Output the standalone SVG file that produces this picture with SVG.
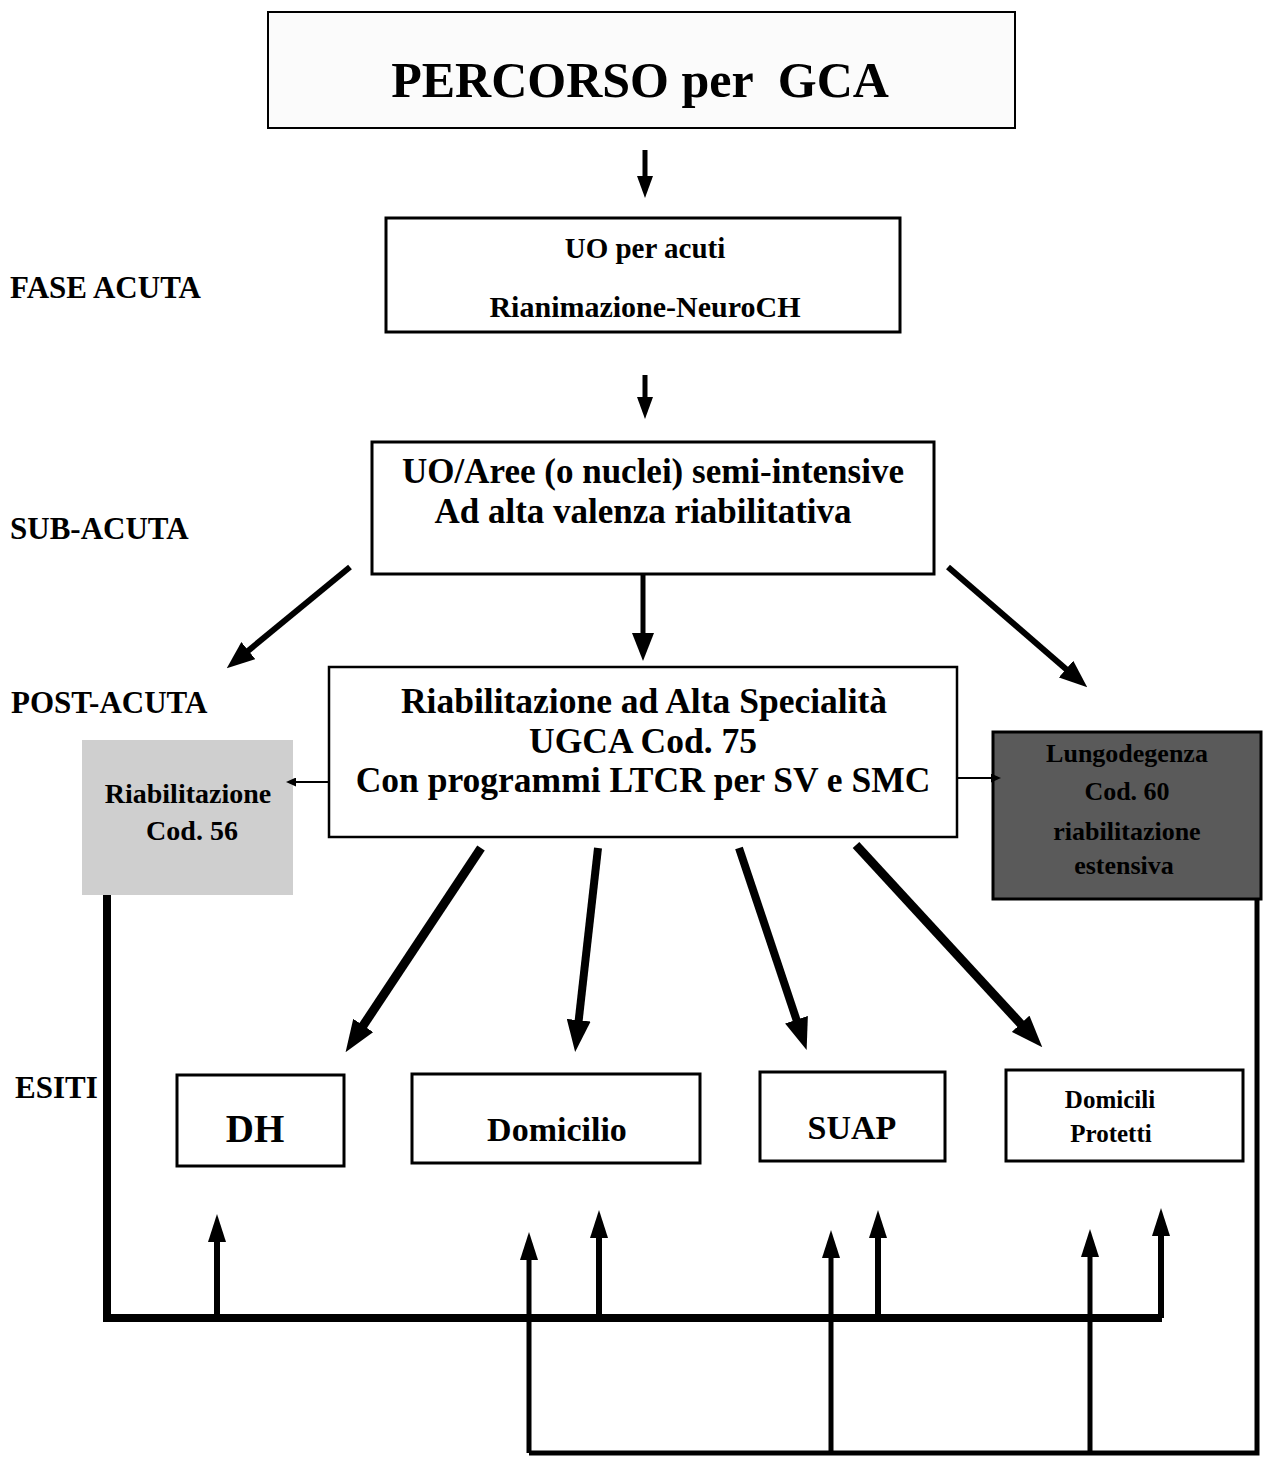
<svg xmlns="http://www.w3.org/2000/svg" width="1263" height="1460" viewBox="0 0 1263 1460">
<style>
  text { font-family: "Liberation Serif", "Times New Roman", serif; font-weight: bold; fill: #000; }
  .box { fill: #fff; stroke: #000; stroke-width: 3; }
  .lbl { font-size: 31px; }
  .c { text-anchor: middle; }
  .conn { fill: none; stroke: #000; stroke-linecap: butt; stroke-linejoin: miter; }
</style>
<defs>
  <marker id="m1" viewBox="0 0 22 16" refX="1" refY="8" markerWidth="22" markerHeight="16" markerUnits="userSpaceOnUse" orient="auto">
    <path d="M0,0 L22,8 L0,16 z" fill="#000"/>
  </marker>
  <marker id="m2" viewBox="0 0 28 22" refX="1" refY="11" markerWidth="28" markerHeight="22" markerUnits="userSpaceOnUse" orient="auto">
    <path d="M0,0 L28,11 L0,22 z" fill="#000"/>
  </marker>
  <marker id="m3" viewBox="0 0 10 9" refX="1" refY="4.5" markerWidth="10" markerHeight="9" markerUnits="userSpaceOnUse" orient="auto">
    <path d="M0,0 L10,4.5 L0,9 z" fill="#000"/>
  </marker>
  <marker id="m4" viewBox="0 0 32 24" refX="1" refY="12" markerWidth="32" markerHeight="24" markerUnits="userSpaceOnUse" orient="auto">
    <path d="M0,0 L32,12 L0,24 z" fill="#000"/>
  </marker>
  <marker id="m5" viewBox="0 0 28 18" refX="1" refY="9" markerWidth="28" markerHeight="18" markerUnits="userSpaceOnUse" orient="auto">
    <path d="M0,0 L28,9 L0,18 z" fill="#000"/>
  </marker>
</defs>
<rect width="1263" height="1460" fill="#fff"/>

<g id="phase-labels">
  <text class="lbl" x="10" y="298">FASE ACUTA</text>
  <text class="lbl" x="10" y="539">SUB-ACUTA</text>
  <text class="lbl" x="11" y="713">POST-ACUTA</text>
  <text class="lbl" x="15" y="1098" font-size="30">ESITI</text>
</g>

<g id="title">
  <rect x="268" y="12" width="747" height="116" fill="#fbfbfb" stroke="#000" stroke-width="2"/>
  <text x="640" y="97" class="c" font-size="50" xml:space="preserve">PERCORSO per  GCA</text>
</g>

<g id="uo-acuti">
  <rect class="box" x="386" y="218" width="514" height="114"/>
  <text x="645" y="258" class="c" font-size="29">UO per acuti</text>
  <text x="645" y="317" class="c" font-size="30">Rianimazione-NeuroCH</text>
</g>

<g id="semi-intensive">
  <rect class="box" x="372" y="442" width="562" height="132"/>
  <text x="653" y="483" class="c" font-size="35">UO/Aree (o nuclei) semi-intensive</text>
  <text x="643" y="523" class="c" font-size="35">Ad alta valenza riabilitativa</text>
</g>

<g id="alta-specialita">
  <rect x="329" y="667" width="628" height="170" fill="#fff" stroke="#000" stroke-width="2.5"/>
  <text x="644" y="713" class="c" font-size="35.5">Riabilitazione ad Alta Specialità</text>
  <text x="643" y="753" class="c" font-size="35.5">UGCA Cod. 75</text>
  <text x="643" y="792" class="c" font-size="35.5">Con programmi LTCR per SV e SMC</text>
</g>

<g id="riab-cod56">
  <rect x="82" y="740" width="211" height="155" fill="#cfcfcf"/>
  <text x="188" y="803" class="c" font-size="28">Riabilitazione</text>
  <text x="192" y="840" class="c" font-size="28">Cod. 56</text>
</g>

<g id="lungodegenza">
  <rect x="993" y="732" width="268" height="167" fill="#5a5a5a" stroke="#000" stroke-width="3"/>
  <text x="1127" y="762" class="c" font-size="26">Lungodegenza</text>
  <text x="1127" y="800" class="c" font-size="26">Cod. 60</text>
  <text x="1127" y="840" class="c" font-size="26">riabilitazione</text>
  <text x="1124" y="874" class="c" font-size="26">estensiva</text>
</g>

<g id="dh">
  <rect class="box" x="177" y="1075" width="167" height="91"/>
  <text x="255" y="1142" class="c" font-size="39">DH</text>
</g>
<g id="domicilio">
  <rect class="box" x="412" y="1074" width="288" height="89"/>
  <text x="557" y="1141" class="c" font-size="34">Domicilio</text>
</g>
<g id="suap">
  <rect class="box" x="760" y="1072" width="185" height="89"/>
  <text x="852" y="1139" class="c" font-size="34">SUAP</text>
</g>
<g id="domicili-protetti">
  <rect class="box" x="1006" y="1070" width="237" height="91"/>
  <text x="1110" y="1108" class="c" font-size="25">Domicili</text>
  <text x="1111" y="1142" class="c" font-size="25">Protetti</text>
</g>

<g id="connectors">
  <line class="conn" x1="645" y1="150" x2="645" y2="177" stroke-width="5" marker-end="url(#m1)"/>
  <line class="conn" x1="645" y1="375" x2="645" y2="398" stroke-width="5" marker-end="url(#m1)"/>

  <line class="conn" x1="350" y1="567" x2="247.6" y2="651.2" stroke-width="6" marker-end="url(#m2)"/>
  <line class="conn" x1="643" y1="574" x2="643" y2="634" stroke-width="5" marker-end="url(#m2)"/>
  <line class="conn" x1="948" y1="567" x2="1066.8" y2="669.7" stroke-width="6" marker-end="url(#m2)"/>

  <line class="conn" x1="329" y1="782" x2="295" y2="782" stroke-width="2" marker-end="url(#m3)"/>
  <line class="conn" x1="957" y1="778" x2="992" y2="778" stroke-width="2" marker-end="url(#m3)"/>

  <line class="conn" x1="481" y1="848" x2="362.7" y2="1026.3" stroke-width="9" marker-end="url(#m4)"/>
  <line class="conn" x1="598" y1="848" x2="578.6" y2="1021.2" stroke-width="8" marker-end="url(#m4)"/>
  <line class="conn" x1="739" y1="848" x2="796.8" y2="1020.7" stroke-width="8" marker-end="url(#m4)"/>
  <line class="conn" x1="856" y1="845" x2="1021.3" y2="1024.5" stroke-width="9" marker-end="url(#m4)"/>

  <path class="conn" d="M107,895 V1318 H1162" stroke-width="8"/>
  <line class="conn" x1="217" y1="1318" x2="217" y2="1241" stroke-width="6" marker-end="url(#m5)"/>
  <line class="conn" x1="599" y1="1318" x2="599" y2="1237" stroke-width="6" marker-end="url(#m5)"/>
  <line class="conn" x1="878" y1="1318" x2="878" y2="1237" stroke-width="6" marker-end="url(#m5)"/>
  <line class="conn" x1="1161" y1="1318" x2="1161" y2="1235" stroke-width="6" marker-end="url(#m5)"/>

  <path class="conn" d="M1257,899 V1453 H529" stroke-width="5"/>
  <line class="conn" x1="529" y1="1453" x2="529" y2="1259" stroke-width="5" marker-end="url(#m5)"/>
  <line class="conn" x1="831" y1="1453" x2="831" y2="1257" stroke-width="5" marker-end="url(#m5)"/>
  <line class="conn" x1="1090" y1="1453" x2="1090" y2="1256" stroke-width="5" marker-end="url(#m5)"/>
</g>
</svg>
